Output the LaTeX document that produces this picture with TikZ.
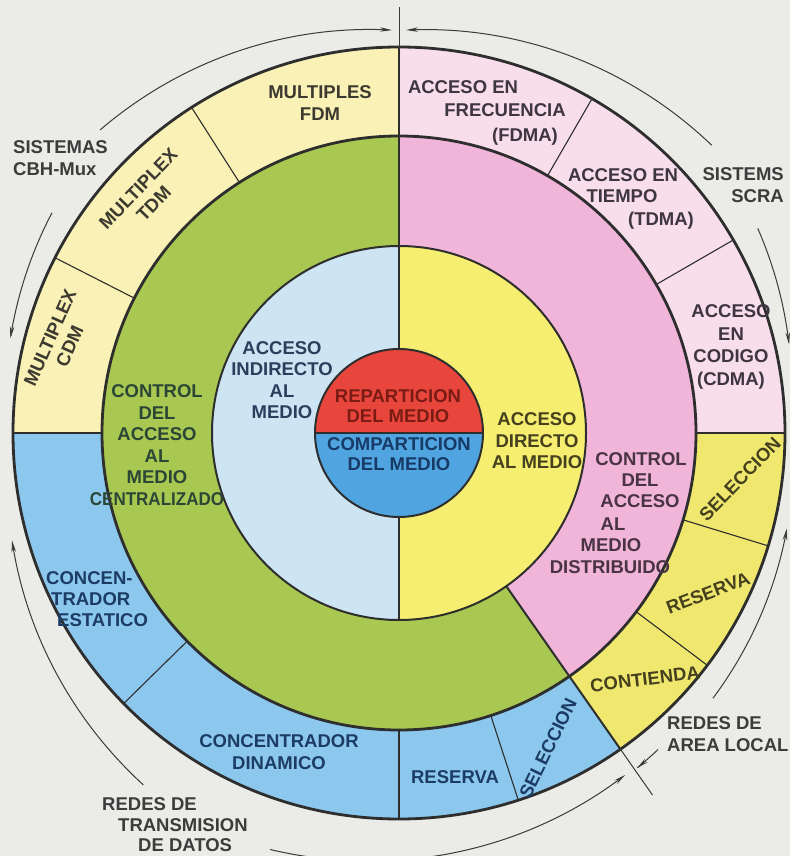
\documentclass[tikz,border=0pt]{standalone}
\usepackage{fontspec}
\usepackage{graphicx}
\setmainfont{Liberation Sans}
\usetikzlibrary{arrows.meta,calc}

% fills
\definecolor{bg}{HTML}{EBEBE8}
\definecolor{oyel}{HTML}{F9F1B5}
\definecolor{opnk}{HTML}{F8DEEB}
\definecolor{oblu}{HTML}{8CC8EE}
\definecolor{oylw}{HTML}{F0E86E}
\definecolor{grn}{HTML}{A8C852}
\definecolor{pnk}{HTML}{F0B5D8}
\definecolor{lblu}{HTML}{CDE4F2}
\definecolor{ylw}{HTML}{F6EE70}
\definecolor{rd}{HTML}{E8463C}
\definecolor{bl}{HTML}{50A5E1}
% strokes and text
\definecolor{linec}{HTML}{2E2E2E}
\definecolor{guidec}{HTML}{3A3A3A}
\definecolor{tyel}{HTML}{3C3A30}
\definecolor{tpnk}{HTML}{3E3540}
\definecolor{tolv}{HTML}{45401E}
\definecolor{tblu}{HTML}{1C3C64}
\definecolor{tgrn}{HTML}{2C4636}
\definecolor{tpur}{HTML}{4A3444}
\definecolor{tslt}{HTML}{2A3F5C}
\definecolor{tred}{HTML}{7A1C14}
\definecolor{tnav}{HTML}{183A66}
\definecolor{tout}{HTML}{3C3C3C}

% annular sector: colour, start angle, end angle, inner radius, outer radius
\newcommand\annsec[5]{%
  \fill[#1] ($(C)+(#2:#5)$) arc[start angle=#2, end angle=#3, radius=#5]
    -- ($(C)+(#3:#4)$) arc[start angle=#3, end angle=#2, radius=#4] -- cycle;}

% guide arc whose radius changes linearly with the angle:
% angle1, radius1, angle2, radius2, extra options
\newcommand\sparc[5]{%
  \draw[guide,#5] plot[domain=#1:#3, samples=60, variable=\t]
    ({399+(#2+((#4)-(#2))*(\t-(#1))/((#3)-(#1)))*cos(\t)},
     {-433+(#2+((#4)-(#2))*(\t-(#1))/((#3)-(#1)))*sin(\t)});}

\begin{document}
\begin{tikzpicture}[x=1pt,y=1pt,
  lbl/.style={font=\fontsize{18.5}{21.5}\selectfont\bfseries, align=center, inner sep=0pt},
  tight/.style={font=\fontsize{18.5}{19.5}\selectfont\bfseries},
  ringline/.style={draw=linec, line width=2.8pt},
  midline/.style={draw=linec, line width=2pt},
  divider/.style={draw=linec, line width=1.1pt},
  guide/.style={draw=guidec, line width=1pt},
  tip/.style={-{Stealth[length=12pt,width=4.5pt]}},
  revtip/.style={{Stealth[length=12pt,width=4.5pt]}-}
]
\useasboundingbox (0,0) rectangle (790,-856);
\fill[bg] (0,0) rectangle (790,-856);
\coordinate (C) at (399,-433);

% outer ring
\annsec{oyel}{90}{180}{297}{386}
\annsec{oblu}{180}{305}{297}{386}
\annsec{oylw}{305}{360}{297}{386}
\annsec{opnk}{0}{90}{297}{386}
% third ring
\annsec{grn}{90}{305}{187}{297}
\annsec{pnk}{-55}{90}{187}{297}
% second ring
\annsec{lblu}{90}{270}{84}{187}
\annsec{ylw}{-90}{90}{84}{187}
% core
\annsec{rd}{0}{180}{0}{84}
\annsec{bl}{180}{360}{0}{84}

% thin dividers of the outer ring
\foreach \a in {122.5,153,224.5,-72,-37,-17,30,60}
  \draw[divider] ($(C)+(\a:297)$) -- ($(C)+(\a:386)$);

% main separators
\draw[midline] ($(C)+(180:84)$) -- ($(C)+(0:84)$);
\draw[midline] ($(C)+(90:84)$) -- ($(C)+(90:386)$);
\draw[midline] ($(C)+(270:84)$) -- ($(C)+(270:187)$);
\draw[midline] ($(C)+(270:297)$) -- ($(C)+(270:386)$);
\draw[ringline] ($(C)+(180:297)$) -- ($(C)+(180:386)$);
\draw[ringline] ($(C)+(0:297)$) -- ($(C)+(0:386)$);
\draw[midline] ($(C)+(-55:187)$) -- ($(C)+(-55:386)$);

% circles
\draw[ringline] (C) circle[radius=386];
\draw[ringline] (C) circle[radius=297];
\draw[midline] (C) circle[radius=187];
\draw[midline] (C) circle[radius=84];

% boundary ticks outside the disc
\draw[guide] ($(C)+(90:386)$) -- ($(C)+(90:426)$);
\draw[guide] ($(C)+(-55:386)$) -- ($(C)+(-55:442)$);

% range arcs
\sparc{91}{403}{134.6}{425.7}{revtip}
\sparc{42.6}{425}{89}{403}{tip}
\sparc{147.6}{411}{166.3}{400}{tip}
\sparc{195.5}{401.6}{234}{435}{revtip}
\sparc{252.8}{436}{303.5}{410}{tip}
\sparc{319.8}{411}{346.2}{399.5}{tip}
\sparc{305.4}{411}{309.3}{409}{revtip}
\sparc{12.8}{400}{29.7}{413}{revtip}

% outer ring labels
\node[lbl, text=tyel] (fdm) at (320,-103) {MULTIPLES\\FDM};
\node[lbl, text=tyel, rotate=46] (tdm) at (146,-196) {MULTIPLEX\\TDM};
\node[lbl, text=tyel, rotate=66] (cdm) at (60,-342) {MULTIPLEX\\CDM};
\node[lbl, text=tpnk] (fdmaA) at (463,-87) {ACCESO EN};
\node[lbl, text=tpnk] (fdmaB) at (505,-110) {FRECUENCIA};
\node[lbl, text=tpnk] (fdmaC) at (525,-137) {(FDMA)};
\node[lbl, text=tpnk] (tdmaA) at (623,-175) {ACCESO EN};
\node[lbl, text=tpnk] (tdmaB) at (622,-196) {TIEMPO};
\node[lbl, text=tpnk] (tdmaC) at (661,-221) {(TDMA)};
\node[lbl, text=tpnk, font=\fontsize{18.5}{22.5}\selectfont\bfseries] (cdma) at (731,-347) {ACCESO\\EN\\CODIGO\\(CDMA)};
\node[lbl, text=tolv, rotate=46] (selA) at (740,-479) {SELECCION};
\node[lbl, text=tolv, rotate=21] (resA) at (708,-593) {RESERVA};
\node[lbl, text=tolv, rotate=7] (cont) at (645,-679) {CONTIENDA};
\node[lbl, text=tblu, rotate=64] (selB) at (548,-748) {SELECCION};
\node[lbl, text=tblu] (resB) at (455,-777) {RESERVA};
\node[lbl, text=tblu] (dyn) at (279,-752) {CONCENTRADOR\\DINAMICO};
\node[lbl, text=tblu, anchor=west] (staA) at (46,-578) {CONCEN-};
\node[lbl, text=tblu, anchor=west] (staB) at (51,-599) {TRADOR};
\node[lbl, text=tblu, anchor=west] (staC) at (57,-620) {ESTATICO};

% third ring labels
\node[lbl, text=tgrn] (cen) at (157,-445)
  {CONTROL\\DEL\\ACCESO\\AL\\MEDIO\\\scalebox{0.92}[1]{CENTRALIZADO}};
\node[lbl, text=tpur] (disA) at (641,-459) {CONTROL};
\node[lbl, text=tpur] (disB) at (640,-480) {DEL};
\node[lbl, text=tpur] (disC) at (640,-501) {ACCESO};
\node[lbl, text=tpur] (disD) at (613,-524) {AL};
\node[lbl, text=tpur] (disE) at (611,-545) {MEDIO};
\node[lbl, text=tpur] (disF) at (610,-567) {DISTRIBUIDO};

% second ring labels
\node[lbl, text=tslt] (ind) at (282,-380) {ACCESO\\INDIRECTO\\AL\\MEDIO};
\node[lbl, text=tolv] (dir) at (537,-441) {ACCESO\\DIRECTO\\AL MEDIO};

% core labels
\node[lbl, tight, text=tred] (rep) at (398,-406) {REPARTICION\\DEL MEDIO};
\node[lbl, tight, text=tnav] (comp) at (399,-454) {COMPARTICION\\DEL MEDIO};

% labels outside the disc
\node[lbl, text=tout, align=left, anchor=west] (cbh) at (13,-158) {SISTEMAS\\CBH-Mux};
\node[lbl, text=tout, align=right, anchor=east] (scra) at (784,-185) {SISTEMS\\SCRA};
\node[lbl, text=tout, align=left, anchor=west] (lan) at (667,-734) {REDES DE\\AREA LOCAL};
\node[lbl, text=tout, anchor=west] (wanA) at (102,-804) {REDES DE};
\node[lbl, text=tout, anchor=west] (wanB) at (118,-825) {TRANSMISION};
\node[lbl, text=tout, anchor=west] (wanC) at (138,-845) {DE DATOS};
\end{tikzpicture}
\end{document}
